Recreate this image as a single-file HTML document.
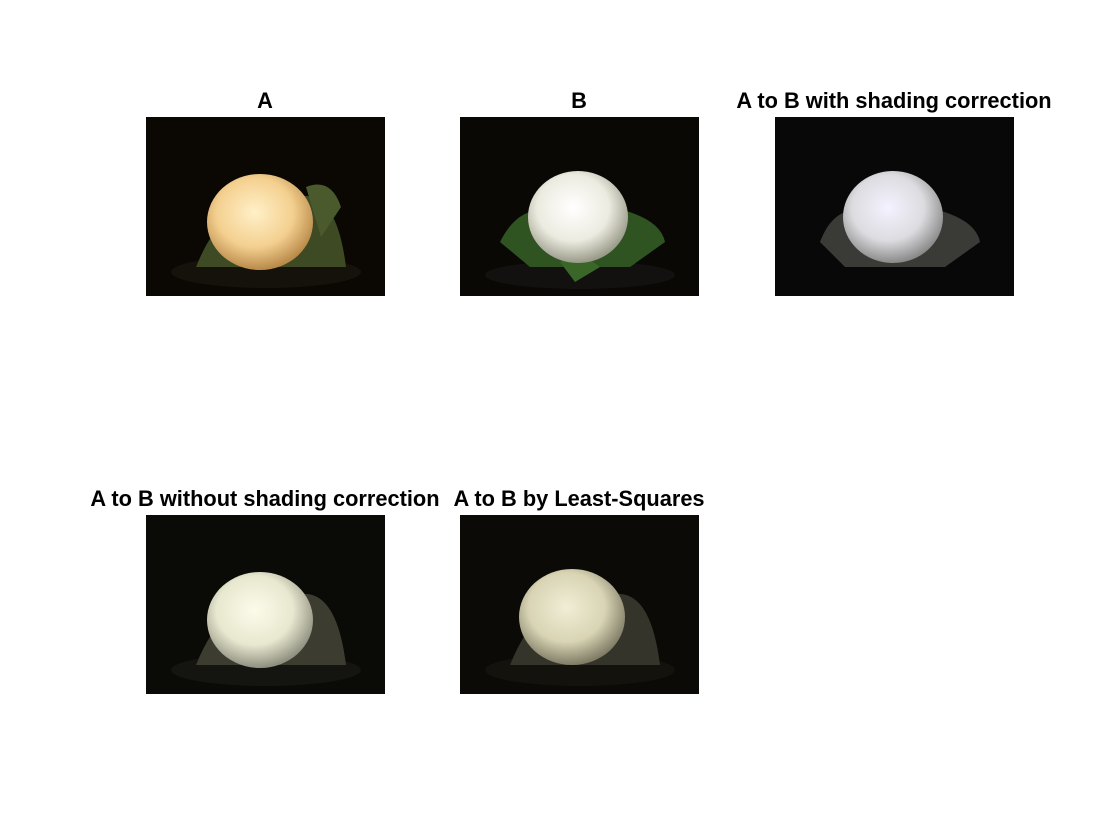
<!DOCTYPE html>
<html><head><meta charset="utf-8"><style>
html,body{margin:0;padding:0;background:#fff;width:1120px;height:840px;overflow:hidden}
.t{position:absolute;font-family:"Liberation Sans",sans-serif;font-weight:bold;font-size:21.8px;letter-spacing:0px;color:#000;text-align:center;white-space:nowrap;transform:translateX(-50%)}
svg.p{position:absolute;width:239px;height:179px}
</style></head><body>
<svg width="0" height="0" style="position:absolute">
<defs>
<radialGradient id="gA" cx="45%" cy="40%" r="60%"><stop offset="0" stop-color="#fff0c8"/><stop offset="0.6" stop-color="#f4d090"/><stop offset="1" stop-color="#b98a4a"/></radialGradient>
<radialGradient id="gB" cx="45%" cy="40%" r="60%"><stop offset="0" stop-color="#ffffff"/><stop offset="0.6" stop-color="#ecebe0"/><stop offset="1" stop-color="#9a9a8a"/></radialGradient>
<radialGradient id="gC" cx="45%" cy="40%" r="60%"><stop offset="0" stop-color="#f4f2ff"/><stop offset="0.6" stop-color="#dcdce0"/><stop offset="1" stop-color="#8a8a8a"/></radialGradient>
<radialGradient id="gD" cx="45%" cy="40%" r="60%"><stop offset="0" stop-color="#fbfbea"/><stop offset="0.6" stop-color="#e8e8d0"/><stop offset="1" stop-color="#909080"/></radialGradient>
<radialGradient id="gE" cx="45%" cy="40%" r="60%"><stop offset="0" stop-color="#f0eed6"/><stop offset="0.6" stop-color="#d8d4b4"/><stop offset="1" stop-color="#807c66"/></radialGradient>
</defs></svg>

<div class="t" style="left:265px;top:88px">A</div>
<div class="t" style="left:579px;top:88px">B</div>
<div class="t" style="left:894px;top:88px">A to B with shading correction</div>
<div class="t" style="left:265px;top:486px">A to B without shading correction</div>
<div class="t" style="left:579px;top:486px">A to B by Least-Squares</div>

<svg class="p" style="left:146px;top:117px" viewBox="0 0 239 179">
<rect width="239" height="179" fill="#0b0804"/>
<ellipse cx="120" cy="155" rx="95" ry="16" fill="#15110b"/>
<path d="M50,150 Q70,100 100,90 L150,80 Q190,70 200,150 Z" fill="#3e4a24"/>
<path d="M160,70 Q185,60 195,90 L175,120 Z" fill="#4b5a2c"/>
<ellipse cx="114" cy="105" rx="53" ry="48" fill="url(#gA)"/>
</svg>
<svg class="p" style="left:460px;top:117px" viewBox="0 0 239 179">
<rect width="239" height="179" fill="#0a0805"/>
<ellipse cx="120" cy="158" rx="95" ry="14" fill="#131110"/>
<path d="M40,125 Q60,85 95,95 L150,90 Q200,100 205,125 L170,150 L70,150 Z" fill="#2f5422"/>
<path d="M100,145 L120,135 L140,150 L115,165 Z" fill="#3a6628"/>
<ellipse cx="118" cy="100" rx="50" ry="46" fill="url(#gB)"/>
</svg>
<svg class="p" style="left:775px;top:117px" viewBox="0 0 239 179">
<rect width="239" height="179" fill="#080808"/>
<path d="M45,125 Q60,85 95,95 L150,90 Q200,100 205,125 L170,150 L70,150 Z" fill="#3a3a36"/>
<ellipse cx="118" cy="100" rx="50" ry="46" fill="url(#gC)"/>
</svg>
<svg class="p" style="left:146px;top:515px" viewBox="0 0 239 179">
<rect width="239" height="179" fill="#0a0a06"/>
<ellipse cx="120" cy="155" rx="95" ry="16" fill="#141410"/>
<path d="M50,150 Q70,100 100,90 L150,80 Q190,70 200,150 Z" fill="#3c3c30"/>
<ellipse cx="114" cy="105" rx="53" ry="48" fill="url(#gD)"/>
</svg>
<svg class="p" style="left:460px;top:515px" viewBox="0 0 239 179">
<rect width="239" height="179" fill="#0b0a06"/>
<ellipse cx="120" cy="155" rx="95" ry="16" fill="#13120d"/>
<path d="M50,150 Q70,100 100,90 L150,80 Q190,70 200,150 Z" fill="#34342a"/>
<ellipse cx="112" cy="102" rx="53" ry="48" fill="url(#gE)"/>
</svg>
</body></html>
